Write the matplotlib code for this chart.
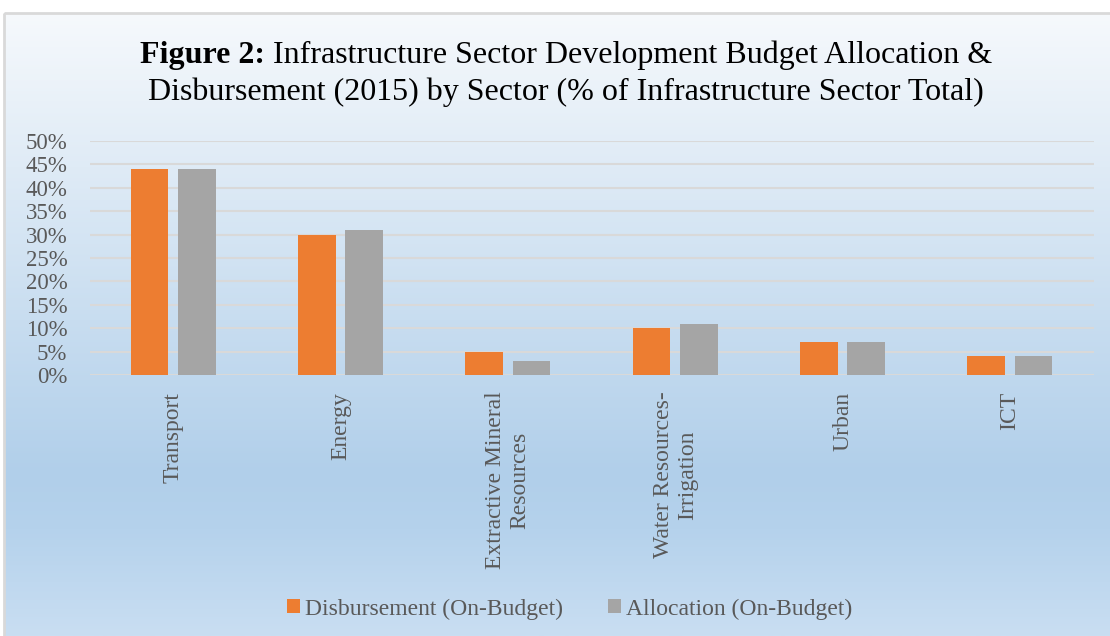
import matplotlib
matplotlib.use("Agg")
import matplotlib.pyplot as plt
import numpy as np
from matplotlib.colors import LinearSegmentedColormap
from matplotlib.patches import Rectangle

# data
sectors = ["Transport", "Energy", "Extractive Mineral\nResources",
           "Water Resources-\nIrrigation", "Urban", "ICT"]
disbursement = [44, 30, 5, 10, 7, 4]
allocation = [44, 31, 3, 11, 7, 4]
series_names = ["Disbursement (On-Budget)", "Allocation (On-Budget)"]
ytick_vals = list(range(0, 55, 5))

ORANGE = "#ED7D31"
GRAY = "#A5A5A5"
TXT = "#595959"

plt.rcParams["font.family"] = ["Liberation Serif", "DejaVu Serif"]

W, H = 1110, 636
fig = plt.figure(figsize=(W / 100, H / 100), dpi=100)

# background: white strip on top, then chart area with a light blue gradient
bg = fig.add_axes([0, 0, 1, 1])
cmap = LinearSegmentedColormap.from_list(
    "bg", [(0, "#F6F9FC"), (0.74, "#B1CFEA"), (0.83, "#B5D2EC"), (1, "#C9DEF2")])
grad = np.linspace(0, 1, 256).reshape(-1, 1)
bg.imshow(grad, cmap=cmap, aspect="auto", extent=(4, W, H, 13))
bg.add_patch(Rectangle((4, 13), W, H, fill=False, edgecolor="#D9D9D9", lw=2))
bg.set_xlim(0, W)
bg.set_ylim(H, 0)
bg.axis("off")

# plot area
left, right, top, bottom = 89.5, 1093.5, 141, 375
ax = fig.add_axes([left / W, 1 - bottom / H, (right - left) / W, (bottom - top) / H])
ax.set_facecolor("none")

x = np.arange(len(sectors))
bw = 0.225
off = 0.142
ax.bar(x - off, disbursement, bw, color=ORANGE, zorder=3, label=series_names[0])
ax.bar(x + off, allocation, bw, color=GRAY, zorder=3, label=series_names[1])

ax.set_xlim(-0.5, len(sectors) - 0.5)
ax.set_ylim(0, 50)
ax.set_yticks(ytick_vals)
ax.set_yticklabels([f"{v}%" for v in ytick_vals])
ax.grid(axis="y", color="#D9D9D9", lw=1.5, zorder=0)
ax.set_axisbelow(True)
for s in ax.spines.values():
    s.set_visible(False)
ax.tick_params(axis="y", length=0, pad=16, labelsize=16.5, labelcolor=TXT)
ax.tick_params(axis="x", length=0, pad=12, labelsize=17, labelcolor=TXT)
ax.set_xticks(x)
ax.set_xticklabels(sectors, rotation=90, ha="center", va="top", multialignment="center")

# legend
handles, labels = ax.get_legend_handles_labels()
fig.legend(handles, labels, loc="center", bbox_to_anchor=(570 / W, 1 - 609 / H),
           ncol=2, frameon=False, fontsize=17, labelcolor=TXT,
           handlelength=0.52, handleheight=0.52, handletextpad=0.25,
           columnspacing=1.9)

# title with bold prefix, centred as one line
renderer = fig.canvas.get_renderer()
tsize = 23
bold_part = "Figure 2:"
rest_part = "Infrastructure Sector Development Budget Allocation &"
tb = fig.text(0, 0, bold_part, fontsize=tsize, fontweight="bold", color="black")
tr = fig.text(0, 0, rest_part, fontsize=tsize, color="black")
wb = tb.get_window_extent(renderer).width
wr = tr.get_window_extent(renderer).width
space = tsize * 100 / 72 * 0.25
total = wb + space + wr
cx = 566
x0 = cx - total / 2
y1 = 1 - 63 / H
tb.set_position((x0 / W, y1))
tb.set_va("baseline")
tr.set_position(((x0 + wb + space) / W, y1))
tr.set_va("baseline")
fig.text(cx / W, 1 - 100 / H,
         "Disbursement (2015) by Sector (% of Infrastructure Sector Total)",
         fontsize=tsize, ha="center", va="baseline", color="black")

fig.savefig("out.png", dpi=100)
